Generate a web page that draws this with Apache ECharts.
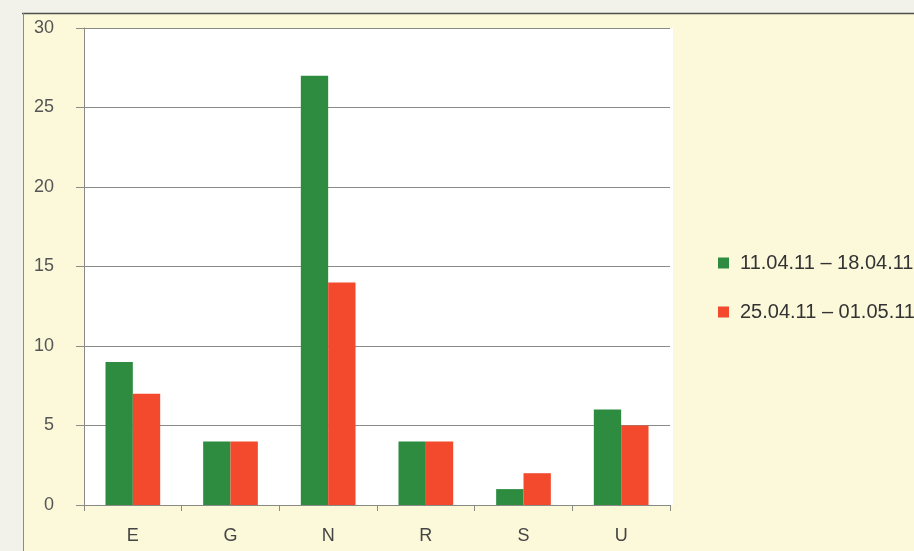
<!DOCTYPE html>
<html>
<head>
<meta charset="utf-8">
<script src="https://cdn.jsdelivr.net/npm/echarts@6/dist/echarts.min.js"></script>
<style>
  html, body { margin: 0; padding: 0; background: #f2f1ea; }
  #chart { width: 914px; height: 551px; }
</style>
</head>
<body>
<div id="chart"></div>
<script>
// Categories and weekly counts
const categories = ['E', 'G', 'N', 'R', 'S', 'U'];
const seriesNames = ['11.04.11 – 18.04.11', '25.04.11 – 01.05.11'];
const week1 = [9, 4, 27, 4, 1, 6];
const week2 = [7, 4, 14, 4, 2, 5];
const yTicks = [0, 5, 10, 15, 20, 25, 30];

const GREEN = '#2d8c40';
const RED = '#f3492d';
const AXIS = '#8a8a86';
const FONT = '"Liberation Sans", Arial, sans-serif';

const chart = echarts.init(document.getElementById('chart'), null, { renderer: 'canvas' });

chart.setOption({
  backgroundColor: '#f2f1ea',
  animation: false,
  textStyle: { fontFamily: FONT },
  graphic: [
    // yellow panel framed by a dark rule at the top and a thin rule on the left
    { type: 'rect', left: 23, top: 13, shape: { width: 891, height: 538 }, style: { fill: '#fcf9da' }, z: -10 },
    { type: 'rect', left: 84, top: 28, shape: { width: 589, height: 477 }, style: { fill: '#ffffff' }, z: -9 },
    { type: 'line', shape: { x1: 22, y1: 13.5, x2: 914, y2: 13.5 }, style: { stroke: '#4e4e4a', lineWidth: 1.5 }, z: -5 },
    { type: 'line', shape: { x1: 23.5, y1: 13, x2: 23.5, y2: 551 }, style: { stroke: '#8c8c86', lineWidth: 1 }, z: -5 }
  ],
  grid: {
    left: 84, right: 244, top: 28, bottom: 46,
    show: false
  },
  legend: {
    orient: 'vertical',
    left: 713, top: 248,
    itemWidth: 11, itemHeight: 11, itemGap: 29,
    icon: 'rect',
    textStyle: { fontSize: 20, color: '#333', fontFamily: FONT, padding: [0, 0, 0, 6] },
    data: seriesNames
  },
  xAxis: {
    type: 'category',
    data: categories,
    axisLine: { lineStyle: { color: AXIS, width: 1 } },
    axisTick: { show: true, length: 6, lineStyle: { color: AXIS } },
    axisLabel: { color: '#444', fontSize: 18, margin: 22, fontFamily: FONT }
  },
  yAxis: {
    type: 'value',
    min: 0, max: 30, interval: 5,
    axisLine: { show: true, lineStyle: { color: AXIS, width: 1 } },
    axisTick: { show: true, length: 8, lineStyle: { color: AXIS } },
    splitLine: { show: true, lineStyle: { color: AXIS, width: 1 } },
    axisLabel: {
      color: '#555', fontSize: 18, margin: 30, fontFamily: FONT,
      formatter: v => yTicks.includes(v) ? String(v) : ''
    }
  },
  series: [
    {
      name: seriesNames[0], type: 'bar', data: week1,
      itemStyle: { color: GREEN },
      barGap: '0%', barCategoryGap: '44%'
    },
    {
      name: seriesNames[1], type: 'bar', data: week2,
      itemStyle: { color: RED },
      barGap: '0%', barCategoryGap: '44%'
    }
  ]
});
</script>
</body>
</html>
